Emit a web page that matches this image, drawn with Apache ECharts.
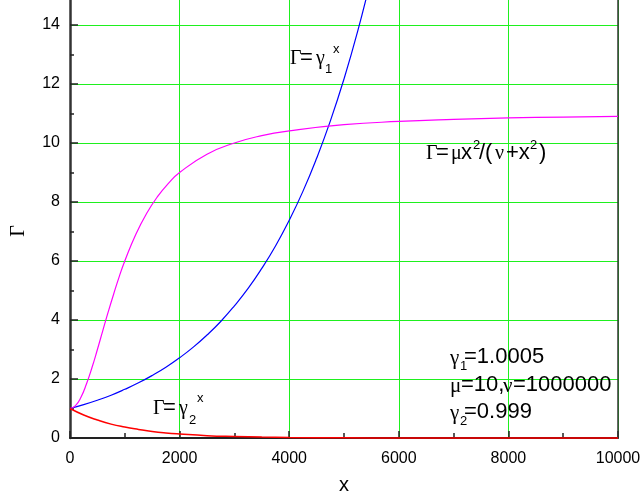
<!DOCTYPE html>
<html lang="en">
  <head>
    <meta charset="UTF-8" />
    <title>Gamma curves</title>
    <script src="https://cdn.jsdelivr.net/npm/echarts@6.0.0/dist/echarts.min.js"></script>
    <style>
      body {
        margin: 0;
        padding: 0;
        background: #fff;
      }
      #main {
        width: 643px;
        height: 501px;
      }
    </style>
  </head>
  <body>
    <div id="main"></div>
    <script>
      // values
      const blueX = [0, 250, 500, 750, 1000, 1250, 1500, 1750, 2000, 2250, 2500, 2750, 3000, 3250, 3500, 3750, 4000, 4250, 4500, 4750, 5000, 5250, 5500];
      const blueY = [1.0, 1.13, 1.28, 1.45, 1.65, 1.87, 2.12, 2.4, 2.72, 3.08, 3.49, 3.95, 4.48, 5.07, 5.75, 6.51, 7.38, 8.36, 9.48, 10.74, 12.17, 13.79, 15.63];

      const magX = [0, 100, 200, 300, 400, 500, 600, 700, 800, 900, 1000, 1200, 1400, 1600, 1800, 2000, 2500, 3000, 3500, 4000, 5000, 6000, 7000, 8000, 9000, 10000];
      const magY = [1.0, 1.1, 1.38, 1.83, 2.38, 3.0, 3.65, 4.29, 4.9, 5.48, 6.0, 6.9, 7.62, 8.19, 8.64, 9.0, 9.62, 10.0, 10.25, 10.41, 10.62, 10.73, 10.8, 10.85, 10.88, 10.9];

      const redX = [0, 250, 500, 750, 1000, 1250, 1500, 1750, 2000, 2500, 3000, 3500, 4000, 5000, 6000, 7000, 8000, 10000];
      const redY = [1.0, 0.78, 0.61, 0.47, 0.37, 0.29, 0.22, 0.17, 0.135, 0.08, 0.05, 0.03, 0.018, 0.007, 0.002, 0.001, 0, 0];

      const xTicks = [0, 2000, 4000, 6000, 8000, 10000];
      const yTicks = [0, 2, 4, 6, 8, 10, 12, 14];

      const SANS = '"Liberation Sans", Arial, sans-serif';
      const SERIF = '"Liberation Serif", "Times New Roman", serif';

      function pairs(xs, ys) {
        return xs.map((x, i) => [x, ys[i]]);
      }

      // one piece of annotation text, top-left placed
      function txt(x, y, s, size, serif) {
        return {
          type: "text",
          x: x,
          y: y,
          z: 100,
          style: {
            text: s,
            font: size + "px " + (serif ? SERIF : SANS),
            fill: "#000",
          },
        };
      }

      const notes = [
        // axis title, rotated like the original
        {
          type: "text",
          x: 19,
          y: 231,
          rotation: Math.PI / 2,
          z: 100,
          style: {
            text: "Γ",
            font: "20px " + SERIF,
            fill: "#000",
            align: "center",
            verticalAlign: "middle",
          },
        },
        // Γ=γ1^x
        txt(290, 49, "Γ", 20, true),
        txt(300, 47, "=", 22, false),
        txt(316, 49, "γ", 20, true),
        txt(325, 63, "1", 13, false),
        txt(333, 43, "x", 13, false),
        // Γ=μx²/(ν+x²)
        txt(426, 144, "Γ", 20, true),
        txt(436, 142, "=", 22, false),
        txt(451, 144, "μ", 20, true),
        txt(461, 142, "x", 22, false),
        txt(473, 139, "2", 13, false),
        txt(479, 142, "/(", 22, false),
        txt(495, 144, "ν", 20, true),
        txt(506, 142, "+x", 22, false),
        txt(530, 139, "2", 13, false),
        txt(539, 142, ")", 22, false),
        // Γ=γ2^x
        txt(153, 399, "Γ", 20, true),
        txt(163, 397, "=", 22, false),
        txt(179, 399, "γ", 20, true),
        txt(189, 414, "2", 13, false),
        txt(197, 392, "x", 13, false),
        // parameters
        txt(450, 348, "γ", 21, true),
        txt(460, 360, "1", 13, false),
        txt(464, 346, "=1.0005", 22, false),
        txt(450, 376, "μ", 21, true),
        txt(461, 374, "=10,", 22, false),
        txt(503, 376, "ν", 21, true),
        txt(513, 374, "=1000000", 22, false),
        txt(450, 403, "γ", 21, true),
        txt(460, 415, "2", 13, false),
        txt(464, 401, "=0.999", 22, false),
      ];

      const chart = echarts.init(document.getElementById("main"));
      const option = {
        animation: false,
        backgroundColor: "#fff",
        grid: {
          left: 70,
          right: 25,
          top: -34,
          bottom: 63,
          containLabel: false,
          outerBoundsMode: "none",
        },
        xAxis: {
          type: "value",
          min: xTicks[0],
          max: xTicks[xTicks.length - 1],
          interval: xTicks[1] - xTicks[0],
          name: "x",
          nameLocation: "middle",
          nameGap: 37,
          nameTextStyle: { color: "#000", fontSize: 20, fontFamily: SANS },
          axisLine: { onZero: false, lineStyle: { color: "#222", width: 2 } },
          axisTick: { inside: true, length: 7, lineStyle: { color: "#222", width: 1.5 } },
          minorTick: { show: true, splitNumber: 2, length: 5, lineStyle: { color: "#222", width: 1.5 } },
          splitLine: { show: true, lineStyle: { color: "#1ef01e", width: 1 } },
          axisLabel: {
            color: "#000",
            fontSize: 16,
            fontFamily: SANS,
            margin: 13,
            formatter: (v) => String(v),
          },
        },
        yAxis: [
          {
            type: "value",
            min: 0,
            max: 16,
            interval: yTicks[1] - yTicks[0],
            axisLine: { show: true, lineStyle: { color: "#333", width: 2.5 } },
            axisTick: { inside: true, length: 8, lineStyle: { color: "#222", width: 1.5 } },
            minorTick: { show: true, splitNumber: 2, length: 4, lineStyle: { color: "#222", width: 1.5 } },
            splitLine: { show: true, lineStyle: { color: "#1ef01e", width: 1 } },
            axisLabel: {
              color: "#000",
              fontSize: 16,
              fontFamily: SANS,
              margin: 10,
              formatter: (v) => (yTicks.includes(v) ? String(v) : ""),
            },
          },
          {
            type: "value",
            position: "right",
            min: 0,
            max: 16,
            z: 5,
            axisLine: { show: true, lineStyle: { color: "#333", width: 1.5 } },
            axisTick: { show: false },
            axisLabel: { show: false },
            splitLine: { show: false },
          },
        ],
        series: [
          {
            name: "gamma1",
            type: "line",
            data: pairs(blueX, blueY),
            showSymbol: false,
            smooth: true,
            lineStyle: { color: "#0000ff", width: 1.2 },
            z: 5,
          },
          {
            name: "hill",
            type: "line",
            data: pairs(magX, magY),
            showSymbol: false,
            smooth: true,
            lineStyle: { color: "#ff00ff", width: 1.2 },
            z: 5,
          },
          {
            name: "gamma2",
            type: "line",
            data: pairs(redX, redY),
            showSymbol: false,
            smooth: true,
            clip: false,
            lineStyle: { color: "#ff0000", width: 1.5 },
            z: 6,
          },
        ],
        graphic: notes,
      };
      chart.setOption(option);
    </script>
  </body>
</html>
